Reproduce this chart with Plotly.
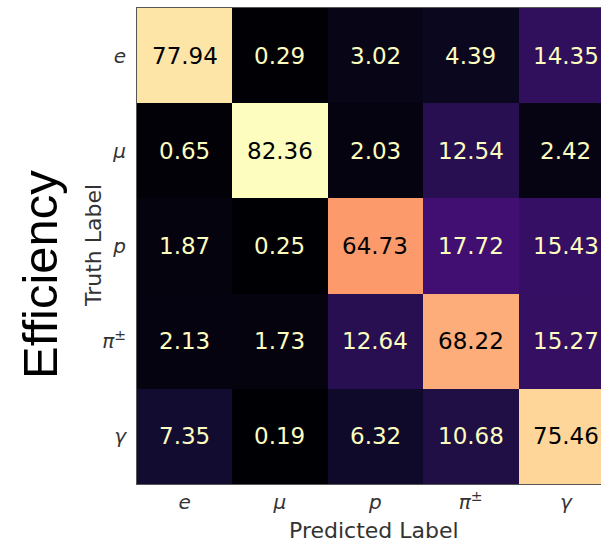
import plotly.graph_objects as go

labels = ["<i>e</i>", "<i>μ</i>", "<i>p</i>", "<i>π</i><sup>±</sup>", "<i>γ</i>"]
values = [
    [77.94, 0.29, 3.02, 4.39, 14.35],
    [0.65, 82.36, 2.03, 12.54, 2.42],
    [1.87, 0.25, 64.73, 17.72, 15.43],
    [2.13, 1.73, 12.64, 68.22, 15.27],
    [7.35, 0.19, 6.32, 10.68, 75.46],
]

W, H = 601, 543
L, T, B = 137, 8, 59
cell = 95.3
plot_w = W - L
plot_h = H - T - B
xmax = -0.5 + plot_w / cell

zmin = min(min(r) for r in values)
zmax = max(max(r) for r in values)

fig = go.Figure(go.Heatmap(
    z=values, x=list(range(5)), y=list(range(5)),
    colorscale="Magma", zmin=zmin, zmax=zmax, showscale=False,
    hoverinfo="skip",
))

def py(pix):
    return (H - B - pix) / plot_h

ann = []
for i, row in enumerate(values):
    for j, v in enumerate(row):
        color = "#000000" if v > (zmax + zmin) / 2 else "#fcfdbf"
        ann.append(dict(x=j, y=i, xref="x", yref="y", text=f"{v:.2f}", showarrow=False,
                        font=dict(family="DejaVu Sans", size=23, color=color)))

ann.append(dict(x=(40 - L) / plot_w, y=py(275), xref="paper", yref="paper", text="Efficiency",
                textangle=-90, showarrow=False, xanchor="center", yanchor="middle",
                font=dict(family="Liberation Sans, Arial", size=49, color="black")))
ann.append(dict(x=(93 - L) / plot_w, y=py(246), xref="paper", yref="paper", text="Truth Label",
                textangle=-90, showarrow=False, xanchor="center", yanchor="middle",
                font=dict(family="DejaVu Sans", size=22, color="#333333")))
ann.append(dict(x=(374 - L) / plot_w, y=py(530), xref="paper", yref="paper",
                text="Predicted Label", showarrow=False, xanchor="center", yanchor="middle",
                font=dict(family="DejaVu Sans", size=22, color="#333333")))

fig.update_layout(
    width=W, height=H, margin=dict(l=L, r=0, t=T, b=B, pad=0),
    paper_bgcolor="white", plot_bgcolor="white",
    annotations=ann,
    xaxis=dict(range=[-0.5, xmax], tickvals=list(range(5)), ticktext=labels,
               showgrid=False, zeroline=False, ticks="", ticklabelstandoff=0,
               tickfont=dict(family="DejaVu Sans", size=20, color="#333333"),
               showline=True, linecolor="#555555", linewidth=1, mirror=True),
    yaxis=dict(range=[4.5, -0.5], tickvals=list(range(5)), ticktext=labels,
               showgrid=False, zeroline=False, ticks="", ticklabelstandoff=6,
               tickfont=dict(family="DejaVu Sans", size=20, color="#333333"),
               showline=True, linecolor="#555555", linewidth=1, mirror=True),
)

fig.write_html("out.html")
